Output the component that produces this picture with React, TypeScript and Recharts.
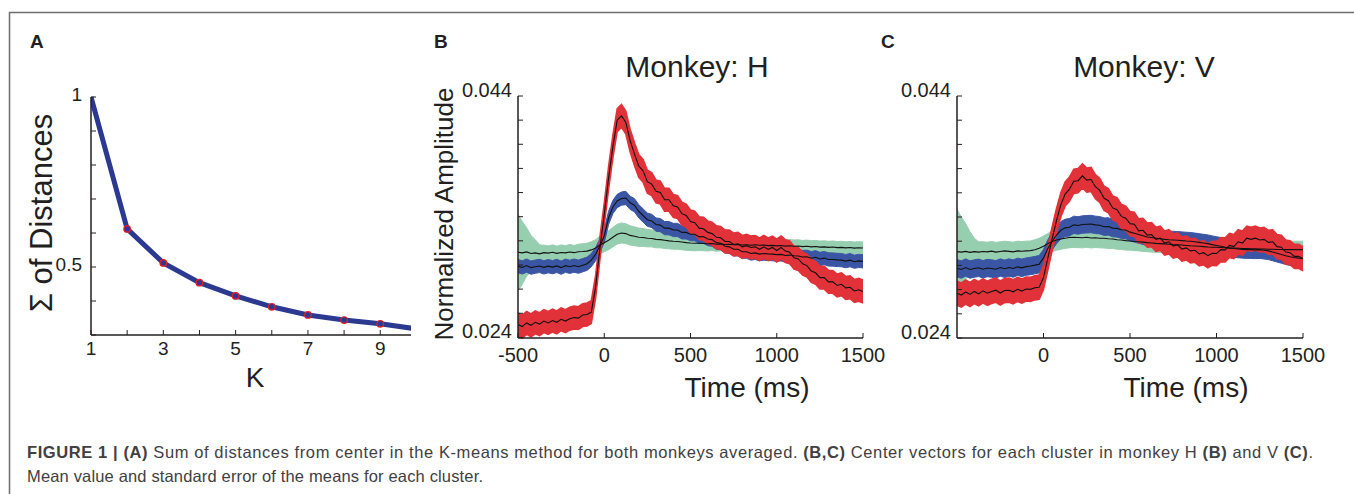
import React from 'react';
import { ComposedChart, Line, Area, XAxis, YAxis } from 'recharts';

const font = '"Liberation Sans", Arial, Helvetica, sans-serif';
const ink = '#231f20';
const greenFill = '#96ceb0';
const blueFill = '#3b55a5';
const redFill = '#e03238';

// Panel A: K-means elbow
const kValues = [1, 2, 3, 4, 5, 6, 7, 8, 9, 10];
const distances = [1.0, 0.612, 0.512, 0.454, 0.415, 0.383, 0.359, 0.344, 0.333, 0.318];
const kTicks = [1, 2, 3, 4, 5, 6, 7, 8, 9];
const kTickLabels = ['1', '3', '5', '7', '9'];
const distTicks = [0.3, 0.4, 0.5, 0.6, 0.7, 0.8, 0.9, 1];
const distTickLabels = ['0.5', '1'];

// Panels B, C: time in ms, amplitude in units of 1e-3
const times = Array.from({ length: 81 }, (_, i) => -500 + 25 * i);
const timeTicksH = [-500, 0, 500, 1000, 1500];
const timeTicksV = [0, 500, 1000, 1500];
const ampTicks = [24, 26, 28, 30, 32, 34, 36, 38, 40, 42, 44];
const ampTickLabels = ['0.024', '0.044'];

// Monkey H
const hGreen = [
  31.05, 31.0, 31.08, 30.95, 31.0, 30.92, 31.02, 30.98, 31.05, 30.96, 31.03, 31.0,
  31.08, 31.02, 31.1, 31.12, 31.15, 31.25, 31.4, 31.65, 31.85, 32.05, 32.3, 32.55,
  32.65, 32.6, 32.45, 32.38, 32.3, 32.28, 32.22, 32.2, 32.12, 32.1, 32.05, 32.0,
  31.96, 31.95, 31.9, 31.85, 31.82, 31.8, 31.8, 31.78, 31.76, 31.78, 31.72, 31.75,
  31.7, 31.72, 31.68, 31.7, 31.66, 31.68, 31.64, 31.67, 31.63, 31.65, 31.6, 31.62,
  31.58, 31.61, 31.56, 31.59, 31.55, 31.57, 31.52, 31.55, 31.5, 31.53, 31.48, 31.5,
  31.46, 31.49, 31.44, 31.46, 31.42, 31.45, 31.4, 31.43, 31.41,
];
const hGreenSem = [
  3.15, 2.6, 2.0, 1.5, 1.1, 0.75, 0.62, 0.6, 0.62, 0.6, 0.63, 0.6,
  0.62, 0.6, 0.62, 0.64, 0.65, 0.68, 0.7, 0.72, 0.75, 0.78, 0.8, 0.82,
  0.83, 0.82, 0.8, 0.78, 0.76, 0.74, 0.72, 0.7, 0.7, 0.68, 0.68, 0.66,
  0.66, 0.65, 0.64, 0.64, 0.62, 0.62, 0.6, 0.6, 0.6, 0.58, 0.58, 0.58,
  0.57, 0.56, 0.56, 0.56, 0.55, 0.55, 0.55, 0.54, 0.54, 0.54, 0.53, 0.53,
  0.53, 0.52, 0.52, 0.52, 0.52, 0.52, 0.51, 0.51, 0.51, 0.5, 0.5, 0.5,
  0.5, 0.5, 0.5, 0.5, 0.5, 0.5, 0.5, 0.5, 0.5,
];
const hBlue = [
  29.9, 29.8, 29.95, 29.78, 29.86, 29.92, 29.8, 29.9, 29.82, 29.92, 29.78, 29.94,
  29.85, 29.95, 29.86, 29.98, 30.1, 30.4, 30.9, 31.6, 32.4, 33.9, 34.8, 35.3,
  35.5, 35.55, 35.15, 34.95, 34.45, 34.1, 33.75, 33.65, 33.35, 33.3, 33.05, 33.05,
  32.9, 32.9, 32.7, 32.7, 32.55, 32.55, 32.33, 32.35, 32.15, 32.1, 31.85, 31.8,
  31.55, 31.5, 31.3, 31.3, 31.1, 31.1, 30.95, 31.0, 30.9, 30.95, 30.92, 30.9,
  30.86, 30.88, 30.78, 30.82, 30.76, 30.74, 30.66, 30.68, 30.56, 30.64, 30.5, 30.57,
  30.46, 30.45, 30.42, 30.4, 30.32, 30.4, 30.27, 30.34, 30.3,
];
const hBlueSem = 0.55;
const hRed = [
  25.07, 24.9, 25.2, 25.0, 25.25, 25.1, 25.35, 25.2, 25.4, 25.25, 25.5, 25.35,
  25.55, 25.65, 25.6, 25.85, 25.9, 26.1, 28.2, 31.4, 34.2, 37.2, 39.8, 42.0,
  42.35, 41.8, 40.3, 39.2, 38.2, 37.8, 36.9, 36.7, 36.1, 36.0, 35.4, 35.4,
  34.9, 34.8, 34.25, 34.1, 33.6, 33.5, 33.05, 33.0, 32.7, 32.6, 32.3, 32.25,
  31.95, 31.95, 31.7, 31.75, 31.5, 31.6, 31.45, 31.5, 31.3, 31.5, 31.3, 31.45,
  31.2, 31.45, 31.15, 31.05, 30.6, 30.5, 30.1, 29.95, 29.5, 29.35, 28.95, 28.95,
  28.6, 28.6, 28.3, 28.4, 28.1, 28.15, 27.85, 27.95, 27.8,
];
const hRedSem = 0.95;

// Monkey V
const vGreen = [
  31.14, 31.1, 31.16, 31.08, 31.14, 31.1, 31.15, 31.12, 31.18, 31.1, 31.15, 31.2,
  31.16, 31.12, 31.2, 31.17, 31.2, 31.22, 31.3, 31.42, 31.58, 31.8, 31.98, 32.1,
  32.18, 32.25, 32.3, 32.32, 32.3, 32.28, 32.32, 32.26, 32.28, 32.25, 32.24, 32.2,
  32.18, 32.12, 32.1, 32.05, 32.02, 31.98, 31.96, 31.92, 31.88, 31.85, 31.82, 31.8,
  31.78, 31.75, 31.72, 31.7, 31.68, 31.65, 31.62, 31.6, 31.58, 31.55, 31.52, 31.5,
  31.5, 31.48, 31.46, 31.45, 31.44, 31.42, 31.4, 31.4, 31.38, 31.37, 31.36, 31.35,
  31.34, 31.33, 31.32, 31.31, 31.3, 31.3, 31.3, 31.3, 31.3,
];
const vGreenSem = [
  3.5, 2.9, 2.3, 1.7, 1.1, 0.85, 0.8, 0.8, 0.8, 0.8, 0.8, 0.8,
  0.8, 0.8, 0.8, 0.8, 0.8, 0.8, 0.82, 0.82, 0.84, 0.84, 0.85, 0.85,
  0.85, 0.85, 0.84, 0.84, 0.83, 0.83, 0.82, 0.82, 0.8, 0.8, 0.8, 0.8,
  0.78, 0.78, 0.78, 0.78, 0.76, 0.76, 0.76, 0.76, 0.75, 0.75, 0.74, 0.74,
  0.74, 0.73, 0.73, 0.73, 0.72, 0.72, 0.72, 0.72, 0.72, 0.71, 0.71, 0.71,
  0.7, 0.7, 0.7, 0.7, 0.7, 0.7, 0.7, 0.7, 0.7, 0.7, 0.7, 0.7,
  0.7, 0.7, 0.7, 0.7, 0.7, 0.7, 0.7, 0.7, 0.7,
];
const vBlue = [
  29.76, 29.66, 29.82, 29.66, 29.74, 29.8, 29.68, 29.78, 29.74, 29.68, 29.82, 29.72,
  29.82, 29.74, 29.88, 29.8, 29.9, 29.95, 30.02, 30.1, 30.6, 31.4, 32.0, 32.5,
  32.9, 33.1, 33.15, 33.35, 33.3, 33.38, 33.4, 33.42, 33.35, 33.32, 33.2, 33.22,
  33.08, 33.06, 32.95, 32.92, 32.75, 32.65, 32.55, 32.45, 32.35, 32.3, 32.25, 32.2,
  32.15, 32.12, 32.1, 32.08, 32.05, 32.02, 32.0, 31.95, 31.9, 31.85, 31.8, 31.72,
  31.65, 31.58, 31.5, 31.42, 31.4, 31.35, 31.32, 31.3, 31.3, 31.28, 31.3, 31.25,
  31.2, 31.1, 31.0, 30.9, 30.8, 30.72, 30.65, 30.6, 30.58,
];
const vBlueSem = 0.72;
const vRed = [
  27.7, 27.55, 27.8, 27.6, 27.85, 27.65, 27.9, 27.7, 27.85, 27.95, 27.72, 27.92,
  27.95, 27.82, 28.02, 27.88, 28.05, 28.02, 28.15, 28.2, 29.0, 30.6, 32.2, 33.7,
  35.0, 35.9, 36.3, 36.95, 37.0, 37.4, 37.05, 37.1, 36.5, 36.2, 35.55, 35.35,
  34.75, 34.6, 34.05, 33.9, 33.45, 33.4, 32.85, 32.9, 32.5, 32.55, 32.15, 32.25,
  31.85, 31.95, 31.6, 31.7, 31.35, 31.45, 31.2, 31.25, 30.95, 31.05, 30.8, 31.0,
  30.98, 31.3, 31.28, 31.65, 31.55, 31.95, 31.85, 32.25, 32.15, 32.25, 32.1, 32.15,
  31.9, 31.95, 31.55, 31.5, 31.1, 31.05, 30.75, 30.75, 30.55,
];
const vRedSem = 1.0;

const semAt = (sem: number | number[], i: number) => (typeof sem === 'number' ? sem : sem[i]);

function buildRows(
  green: number[], greenSem: number | number[],
  blue: number[], blueSem: number | number[],
  red: number[], redSem: number | number[],
) {
  return times.map((t, i) => ({
    t,
    green: green[i],
    greenBand: [green[i] - semAt(greenSem, i), green[i] + semAt(greenSem, i)],
    blue: blue[i],
    blueBand: [blue[i] - semAt(blueSem, i), blue[i] + semAt(blueSem, i)],
    red: red[i],
    redBand: [red[i] - semAt(redSem, i), red[i] + semAt(redSem, i)],
  }));
}

const rowsH = buildRows(hGreen, hGreenSem, hBlue, hBlueSem, hRed, hRedSem);
const rowsV = buildRows(vGreen, vGreenSem, vBlue, vBlueSem, vRed, vRedSem);
const kRows = kValues.map((k, i) => ({ k, dist: distances[i] }));

const bottomTick = (labelFor: (v: number) => string, size: number, drop: number) => (p: any) => (
  <text x={p.x} y={p.y + drop} textAnchor="middle" fontSize={size} fontFamily={font} fill={ink}>
    {labelFor(p.payload.value)}
  </text>
);

const leftTick = (labelFor: (v: number) => string, size: number, gap: number, drop: number) => (p: any) => (
  <text x={p.x - gap} y={p.y + drop} textAnchor="end" fontSize={size} fontFamily={font} fill={ink}>
    {labelFor(p.payload.value)}
  </text>
);

const axisStyle = { stroke: ink, strokeWidth: 1.5 };
const tickStyle = { stroke: ink, strokeWidth: 1 };

const kLabel = (v: number) => (kTickLabels.includes(String(v)) ? String(v) : '');
const distLabel = (v: number) => (distTickLabels.includes(String(v)) ? String(v) : '');
const ampLabel = (v: number) => {
  const s = (v / 1000).toFixed(3);
  return ampTickLabels.includes(s) ? s : '';
};
const timeLabel = (v: number) => String(v);

const renderKDot = (p: any) => {
  if (p.index === 0) return <g key={`kd-${p.index}`} />;
  return (
    <circle key={`kd-${p.index}`} cx={p.cx} cy={p.cy} r={3.3} fill="#2b3990" stroke="#ed1c24" strokeWidth={1.2} />
  );
};

function ClusterChart({ rows, left, width, yWidth, right, xTicks }: any) {
  return (
    <div style={{ position: 'absolute', left, top: 0 }}>
      <ComposedChart width={width} height={420} data={rows} margin={{ top: 96, right, bottom: 52, left: 0 }}>
        <XAxis
          dataKey="t"
          type="number"
          domain={[-500, 1500]}
          ticks={xTicks}
          interval={0}
          height={30}
          tickSize={-5}
          tickMargin={5}
          axisLine={axisStyle}
          tickLine={tickStyle}
          tick={bottomTick(timeLabel, 20, 24)}
        />
        <YAxis
          type="number"
          domain={[24, 44]}
          ticks={ampTicks}
          interval={0}
          width={yWidth}
          tickSize={-5}
          tickMargin={5}
          axisLine={axisStyle}
          tickLine={tickStyle}
          tick={leftTick(ampLabel, 20, 6, 1)}
        />
        <Area type="linear" dataKey="greenBand" fill={greenFill} fillOpacity={1} stroke={greenFill} strokeWidth={1} isAnimationActive={false} />
        <Line type="linear" dataKey="green" stroke="#111" strokeWidth={1.1} dot={false} isAnimationActive={false} />
        <Area type="linear" dataKey="blueBand" fill={blueFill} fillOpacity={1} stroke={blueFill} strokeWidth={1} isAnimationActive={false} />
        <Line type="linear" dataKey="blue" stroke="#111" strokeWidth={1.1} dot={false} isAnimationActive={false} />
        <Area type="linear" dataKey="redBand" fill={redFill} fillOpacity={1} stroke={redFill} strokeWidth={1.5} isAnimationActive={false} />
        <Line type="linear" dataKey="red" stroke="#111" strokeWidth={1.1} dot={false} isAnimationActive={false} />
      </ComposedChart>
    </div>
  );
}

export default function App() {
  return (
    <div style={{ position: 'absolute', left: 0, top: 0, width: 1354, height: 494, background: '#fff', overflow: 'hidden' }}>
      <div style={{ position: 'absolute', left: 0, top: 0 }}>
        <ComposedChart width={430} height={420} data={kRows} margin={{ top: 97, right: 19, bottom: 55, left: 0 }}>
          <XAxis
            dataKey="k"
            type="number"
            domain={[1, 9.85]}
            allowDataOverflow
            ticks={kTicks}
            interval={0}
            height={30}
            tickSize={-5}
            tickMargin={5}
            axisLine={axisStyle}
            tickLine={tickStyle}
            tick={bottomTick(kLabel, 19, 20)}
          />
          <YAxis
            type="number"
            domain={[0.3, 1]}
            ticks={distTicks}
            interval={0}
            width={91}
            tickSize={-5}
            tickMargin={5}
            axisLine={axisStyle}
            tickLine={tickStyle}
            tick={leftTick(distLabel, 19, 9, 4)}
          />
          <Line type="linear" dataKey="dist" stroke="#2b3990" strokeWidth={5} dot={renderKDot} isAnimationActive={false} />
        </ComposedChart>
      </div>

      <ClusterChart rows={rowsH} left={430} width={470} yWidth={88} right={37} xTicks={timeTicksH} />
      <ClusterChart rows={rowsV} left={880} width={474} yWidth={77} right={51} xTicks={timeTicksV} />

      <svg width={1354} height={494} style={{ position: 'absolute', left: 0, top: 0, pointerEvents: 'none' }} fontFamily={font}>
        <path d="M9.5 494 V12.5 H1354" fill="none" stroke="#6d6e71" strokeWidth={1.5} />

        <text x={30} y={48} fontSize={19} fontWeight="bold" fill={ink}>A</text>
        <text x={434} y={48} fontSize={19} fontWeight="bold" fill={ink}>B</text>
        <text x={881} y={48} fontSize={19} fontWeight="bold" fill={ink}>C</text>

        <text x={697} y={77} fontSize={30} textAnchor="middle" fill={ink}>Monkey: H</text>
        <text x={1144} y={77} fontSize={30} textAnchor="middle" fill={ink}>Monkey: V</text>

        <text transform="translate(52 213) rotate(-90)" fontSize={31} textAnchor="middle" fill={ink}>Σ of Distances</text>
        <text transform="translate(453 214) rotate(-90)" fontSize={26} textAnchor="middle" fill={ink}>Normalized Amplitude</text>

        <text x={255} y={387} fontSize={28} textAnchor="middle" fill={ink}>K</text>
        <text x={747} y={397} fontSize={28} textAnchor="middle" fill={ink}>Time (ms)</text>
        <text x={1186} y={397} fontSize={28} textAnchor="middle" fill={ink}>Time (ms)</text>

        <text x={27} y={458} fontSize={16.5} fill="#414042" textLength={1286} lengthAdjust="spacing">
          <tspan fontWeight="bold">FIGURE 1 | (A)</tspan>
          {' Sum of distances from center in the K-means method for both monkeys averaged. '}
          <tspan fontWeight="bold">(B,C)</tspan>
          {' Center vectors for each cluster in monkey H '}
          <tspan fontWeight="bold">(B)</tspan>
          {' and V '}
          <tspan fontWeight="bold">(C)</tspan>
          {'.'}
        </text>
        <text x={27} y={482} fontSize={16.5} fill="#414042" textLength={456} lengthAdjust="spacing">
          Mean value and standard error of the means for each cluster.
        </text>
      </svg>
    </div>
  );
}
